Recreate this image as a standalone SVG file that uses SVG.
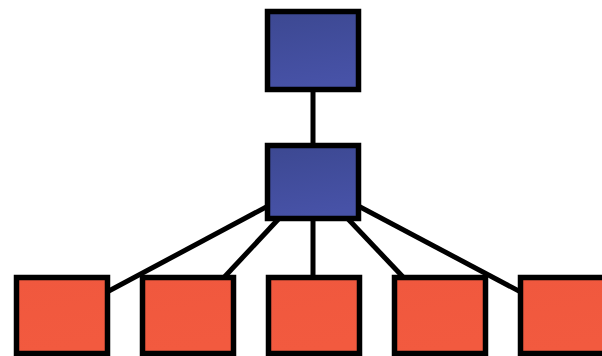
<svg xmlns="http://www.w3.org/2000/svg" width="602" height="356" viewBox="0 0 602 356">
<defs>
<linearGradient id="gb" x1="0" y1="0" x2="0.2" y2="1">
<stop offset="0" stop-color="#3c4891"/>
<stop offset="1" stop-color="#4752a7"/>
</linearGradient>
<linearGradient id="gr" x1="0" y1="0" x2="0.2" y2="1">
<stop offset="0" stop-color="#f0583e"/>
<stop offset="1" stop-color="#f25a3f"/>
</linearGradient>
<style>
.b{fill:url(#gb);stroke:#000;stroke-width:5.5}
.r{fill:url(#gr);stroke:#000;stroke-width:5.5}
.c{stroke:#000;stroke-width:5;fill:none}
</style>
</defs>
<rect width="602" height="356" fill="#fff"/>
<g id="connectors">
<line class="c" x1="313" y1="50" x2="313" y2="182"/>
<line class="c" x1="313" y1="182" x2="62" y2="316"/>
<line class="c" x1="313" y1="182" x2="188" y2="316"/>
<line class="c" x1="313" y1="182" x2="313" y2="316"/>
<line class="c" x1="313" y1="182" x2="440" y2="316"/>
<line class="c" x1="313" y1="182" x2="566" y2="316"/>
</g>
<g id="top"><rect class="b" x="267.5" y="11.5" width="91" height="78"/></g>
<g id="middle"><rect class="b" x="267.5" y="145.5" width="91" height="73"/></g>
<g id="leaf1"><rect class="r" x="16.5" y="277.5" width="91" height="76"/></g>
<g id="leaf2"><rect class="r" x="142.5" y="277.5" width="91" height="76"/></g>
<g id="leaf3"><rect class="r" x="268.5" y="277.5" width="91" height="76"/></g>
<g id="leaf4"><rect class="r" x="394.5" y="277.5" width="91" height="76"/></g>
<g id="leaf5"><rect class="r" x="520.5" y="277.5" width="91" height="76"/></g>
</svg>
